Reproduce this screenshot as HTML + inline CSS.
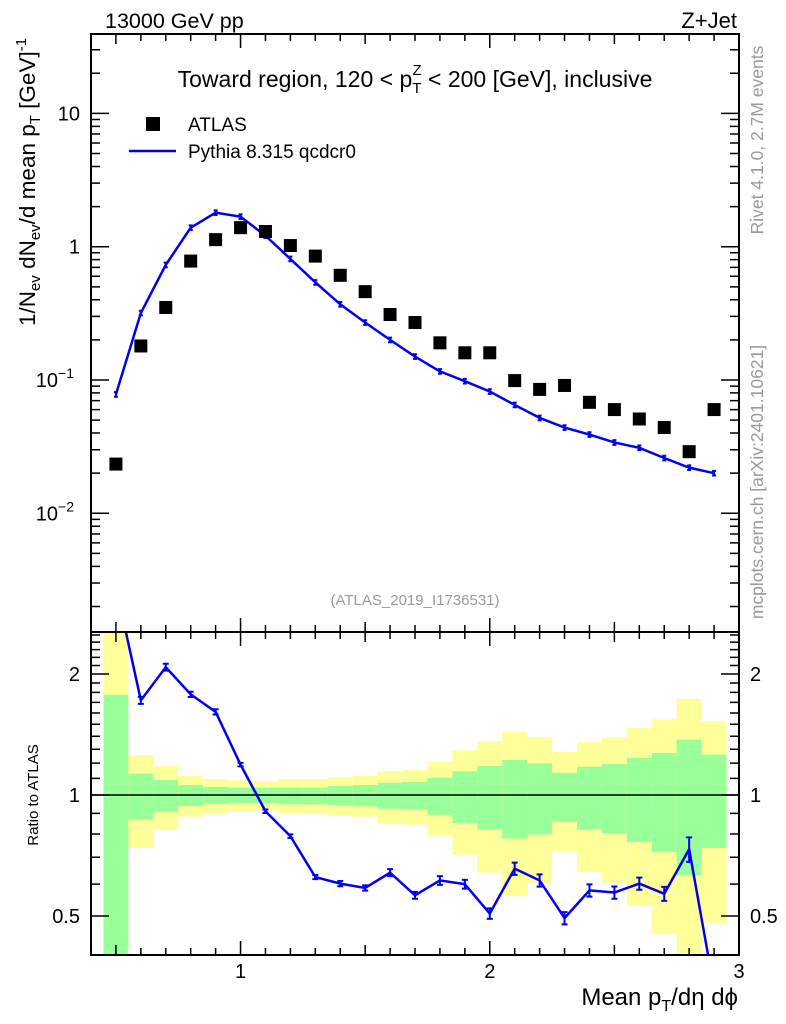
<!DOCTYPE html>
<html><head><meta charset="utf-8"><style>
body{margin:0;background:#fff;}
svg{display:block;font-family:"Liberation Sans",sans-serif;}
</style></head><body>
<svg id="c" width="786" height="1024" viewBox="0 0 786 1024" xmlns="http://www.w3.org/2000/svg">
<g id="bands"></g>
<g id="marks"></g>
<g id="axes"></g>
<text x="105" y="28" font-size="21.5">13000 GeV pp</text>
<text x="737" y="28" font-size="22" text-anchor="end">Z+Jet</text>
<text x="415" y="87" font-size="23" text-anchor="middle">Toward region, 120 &lt; p<tspan font-size="15" dy="6">T</tspan><tspan font-size="15" dx="-9" dy="-18">Z</tspan><tspan dy="12"> &lt; 200 [GeV], inclusive</tspan></text>
<rect x="146" y="117" width="14" height="14" fill="#000"/>
<text x="188" y="131" font-size="19">ATLAS</text>
<line x1="129" y1="151" x2="176" y2="151" stroke="#0000ee" stroke-width="2.5"/>
<text x="188" y="158" font-size="19">Pythia 8.315 qcdcr0</text>
<text x="415" y="605" font-size="15" fill="#999" text-anchor="middle">(ATLAS_2019_I1736531)</text>
<text transform="translate(763,140) rotate(-90)" font-size="17.5" fill="#999" text-anchor="middle">Rivet 4.1.0,  2.7M events</text>
<text transform="translate(763,482) rotate(-90)" font-size="17.5" fill="#999" text-anchor="middle">mcplots.cern.ch [arXiv:2401.10621]</text>
<text transform="translate(35,182) rotate(-90)" font-size="22.5" text-anchor="middle">1/N<tspan font-size="15" dy="5">ev</tspan><tspan dy="-5"> dN</tspan><tspan font-size="15" dy="5">ev</tspan><tspan dy="-5">/d mean p</tspan><tspan font-size="15" dy="5">T</tspan><tspan dy="-5"> [GeV]</tspan><tspan font-size="15" dy="-9">-1</tspan></text>
<text transform="translate(38,795) rotate(-90)" font-size="15" text-anchor="middle">Ratio to ATLAS</text>
<text x="738" y="1005" font-size="24" text-anchor="end">Mean p<tspan font-size="16" dy="6">T</tspan><tspan dy="-6">/dη dϕ</tspan></text>
</svg>
<script>
const xs = [0.5,0.6,0.7,0.8,0.9,1.0,1.1,1.2,1.3,1.4,1.5,1.6,1.7,1.8,1.9,2.0,2.1,2.2,2.3,2.4,2.5,2.6,2.7,2.8,2.9];
const atlas = [0.0234,0.18,0.35,0.78,1.13,1.39,1.30,1.02,0.85,0.61,0.46,0.31,0.27,0.19,0.16,0.16,0.099,0.085,0.091,0.068,0.06,0.051,0.044,0.029,0.06];
const pythia = [0.078,0.318,0.73,1.39,1.80,1.68,1.21,0.81,0.54,0.37,0.27,0.20,0.15,0.116,0.098,0.082,0.065,0.052,0.044,0.039,0.034,0.031,0.026,0.022,0.020];
const ratio = [3.3,1.72,2.08,1.78,1.61,1.19,0.911,0.79,0.625,0.602,0.587,0.641,0.563,0.613,0.60,0.507,0.656,0.613,0.494,0.579,0.572,0.602,0.568,0.733,0.33];
const ratioErr = [0.02,0.02,0.02,0.015,0.015,0.01,0.01,0.01,0.012,0.015,0.015,0.02,0.02,0.025,0.025,0.03,0.035,0.035,0.035,0.035,0.035,0.035,0.04,0.07,0.05];
const yelUp = [3.0,1.255,1.18,1.115,1.096,1.088,1.081,1.096,1.096,1.107,1.115,1.145,1.154,1.208,1.292,1.36,1.437,1.394,1.279,1.355,1.392,1.468,1.543,1.736,1.525];
const grnUp = [1.776,1.13,1.09,1.059,1.047,1.043,1.043,1.043,1.043,1.053,1.059,1.073,1.077,1.104,1.145,1.181,1.222,1.199,1.136,1.176,1.194,1.236,1.272,1.373,1.26];
const grnLo = [0.3,0.868,0.907,0.939,0.95,0.953,0.953,0.948,0.948,0.943,0.937,0.924,0.919,0.893,0.852,0.82,0.779,0.798,0.857,0.82,0.803,0.764,0.721,0.631,0.738];
const yelLo = [0.3,0.738,0.822,0.883,0.90,0.911,0.916,0.902,0.902,0.892,0.883,0.848,0.844,0.794,0.711,0.641,0.563,0.602,0.724,0.643,0.605,0.531,0.452,0.35,0.481];
const yTicks = [{v:10,t:"10"},{v:1,t:"1"},{v:0.1,t:"10",e:"−1"},{v:0.01,t:"10",e:"−2"}];
const rTicks = [2,1,0.5];
const xTicks = [1,2,3];

const L=91,R=739,T=34,M=632,B=955;
const NS="http://www.w3.org/2000/svg";
function X(v){return L+(v-0.4)/(2.6)*(R-L);}
function Y(v){return 246.7-Math.log10(v)*133.3;}
function RY(v){return 795-Math.log2(v)*121;}
function el(tag,attrs,parent){const e=document.createElementNS(NS,tag);for(const k in attrs)e.setAttribute(k,attrs[k]);parent.appendChild(e);return e;}
const bands=document.getElementById('bands'),marks=document.getElementById('marks'),axes=document.getElementById('axes');
function cl(y){return Math.max(M,Math.min(B,y));}
xs.forEach((x,i)=>{
  const x0=X(x-0.05),x1=X(x+0.05);
  const a=el('rect',{x:x0,y:cl(RY(yelUp[i])),width:x1-x0,height:cl(RY(yelLo[i]))-cl(RY(yelUp[i])),fill:'#ffff99'},bands);
  
  
  const g=el('rect',{x:x0,y:cl(RY(grnUp[i])),width:x1-x0,height:cl(RY(grnLo[i]))-cl(RY(grnUp[i])),fill:'#99ff99'},bands);
  
  
});
const ref=el('line',{x1:L,x2:R,y1:RY(1),y2:RY(1),stroke:'#000','stroke-width':1.5},marks);


const pl=el('polyline',{points:xs.map((x,i)=>X(x)+','+Y(pythia[i])).join(' '),fill:'none',stroke:'#0000ee','stroke-width':2.5},marks);


xs.forEach((x,i)=>{
  const e=el('path',{d:`M${X(x)-2},${Y(pythia[i]*1.04)}h4M${X(x)},${Y(pythia[i]*1.04)}V${Y(pythia[i]*0.96)}M${X(x)-2},${Y(pythia[i]*0.96)}h4`,stroke:'#0000ee','stroke-width':2,fill:'none'},marks);
  
  
  const s=el('rect',{x:X(x)-6.5,y:Y(atlas[i])-6.5,width:13,height:13,fill:'#000'},marks);
  
  
});
const cp=el('clipPath',{id:'rc'},marks);
el('rect',{x:L,y:M,width:R-L,height:B-M},cp);
const rg=el('g',{'clip-path':'url(#rc)'},marks);
const rl=el('polyline',{points:xs.map((x,i)=>X(x)+','+RY(ratio[i])).join(' '),fill:'none',stroke:'#0000ee','stroke-width':2.5},rg);


xs.forEach((x,i)=>{
  const u=RY(ratio[i]*(1+ratioErr[i])),d=RY(ratio[i]*(1-ratioErr[i]));
  const e=el('path',{d:`M${X(x)-3},${u}h6M${X(x)},${u}V${d}M${X(x)-3},${d}h6`,stroke:'#0000ee','stroke-width':2,fill:'none'},rg);
  
  
});
const f1=el('rect',{x:L,y:T,width:R-L,height:M-T,fill:'none',stroke:'#000','stroke-width':2},axes);


const f2=el('rect',{x:L,y:M,width:R-L,height:B-M,fill:'none',stroke:'#000','stroke-width':2},axes);


let tp='';
for(let k=5;k<=29;k++){const v=k/10,x=X(v);const len=(k%10==0)?14:(k%5==0?10:7);
  tp+=`M${x},${T}v${len}M${x},${M}v${-len}M${x},${M}v${len}M${x},${B}v${-len}`;}
for(let d=-3;d<=1;d++){for(let m=1;m<=9;m++){const v=m*Math.pow(10,d),y=Y(v);if(y<T||y>M)continue;const len=m==1?18:9;
  tp+=`M${L},${y}h${len}M${R},${y}h${-len}`;}}
[0.4,0.5,0.6,0.7,0.8,0.9,1,1.1,1.2,1.3,1.4,1.5,1.6,1.7,1.8,1.9,2,2.1,2.2,2.3,2.4,2.5].forEach(v=>{const y=RY(v);if(y<M||y>B)return;const len=(v==0.5||v==1||v==2)?18:9;
  tp+=`M${L},${y}h${len}M${R},${y}h${-len}`;});
el('path',{d:tp,stroke:'#000','stroke-width':1.5,fill:'none'},axes);
xTicks.forEach(v=>{const t=el('text',{x:X(v),y:978,'font-size':20,'text-anchor':'middle'},axes);t.textContent=v;
  
  });
yTicks.forEach(o=>{const t=el('text',{x:o.e?74:80,y:Y(o.v)+7,'font-size':20,'text-anchor':'end'},axes);t.textContent=o.t;
  if(o.e){const s=el('tspan',{'font-size':14,dy:-9},t);s.textContent=o.e;}
  
  });
rTicks.forEach(v=>{[[80,'end'],[750,'start']].forEach(([x,a])=>{const t=el('text',{x:x,y:RY(v)+7,'font-size':20,'text-anchor':a},axes);t.textContent=v;
  
  });});
</script>
</body></html>
